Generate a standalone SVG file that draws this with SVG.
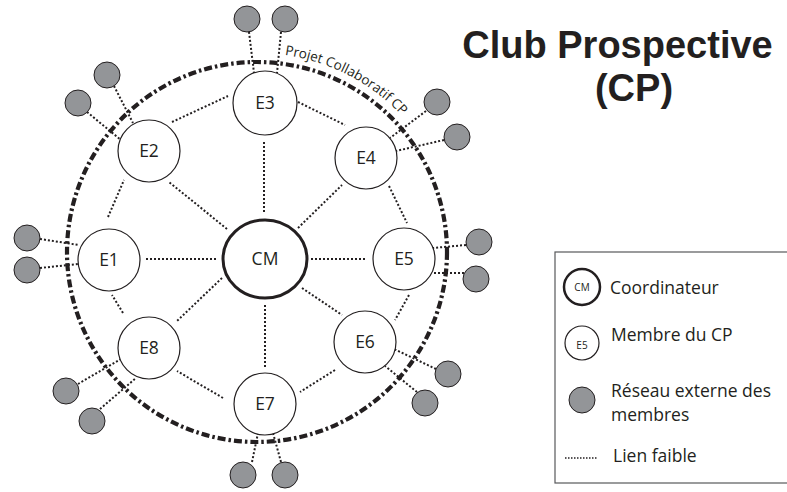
<svg xmlns="http://www.w3.org/2000/svg" width="787" height="492" viewBox="0 0 787 492">
<defs>
<style>
.bg{fill:#ffffff}
.node{fill:#ffffff;stroke:#231f20;stroke-width:1.2}
.coord{fill:#ffffff;stroke:#231f20;stroke-width:3}
.ext{fill:#939598;stroke:#231f20;stroke-width:1}
.lab{font-family:"Open Sans","Noto Sans",sans-serif;font-size:17.5px;fill:#231f20;text-anchor:middle}
.lnk{stroke:#231f20;stroke-width:2;stroke-dasharray:2 2;fill:none}
.ring{fill:none;stroke:#231f20;stroke-width:4.2;stroke-dasharray:8 3 2.5 3}
.leg{font-family:"Open Sans","Noto Sans",sans-serif;font-size:17.5px;fill:#231f20}
.title{font-family:"Liberation Sans",Arial,sans-serif;font-weight:bold;font-size:38px;fill:#231f20;text-anchor:middle}
</style>
<path id="arc" d="M 284.7 54.9 A 199 199 0 0 1 429.3 152.5"/>
</defs>
<rect class="bg" x="0" y="0" width="787" height="492"/>

<g id="boundary">
<circle class="ring" cx="257" cy="252" r="190"/>
<text font-family="'Open Sans','Noto Sans',sans-serif" font-size="13.5" fill="#231f20"><textPath href="#arc">Projet Collaboratif CP</textPath></text>
</g>

<g id="connectors">
<line class="lnk" x1="216" y1="259" x2="146" y2="259"/>
<line class="lnk" x1="227" y1="229" x2="169" y2="182"/>
<line class="lnk" x1="264" y1="212" x2="264" y2="141"/>
<line class="lnk" x1="298" y1="228" x2="342" y2="185"/>
<line class="lnk" x1="311" y1="259" x2="367" y2="259"/>
<line class="lnk" x1="302" y1="288" x2="342" y2="315"/>
<line class="lnk" x1="265" y1="305" x2="265" y2="367"/>
<line class="lnk" x1="222" y1="278" x2="177" y2="321"/>
<line class="lnk" x1="108" y1="217" x2="124" y2="180"/>
<line class="lnk" x1="172" y1="122" x2="228" y2="96"/>
<line class="lnk" x1="298" y1="102" x2="345" y2="125"/>
<line class="lnk" x1="389" y1="186" x2="407" y2="223"/>
<line class="lnk" x1="409" y1="295" x2="395" y2="320"/>
<line class="lnk" x1="335" y1="370" x2="300" y2="392"/>
<line class="lnk" x1="223" y1="398" x2="177" y2="371"/>
<line class="lnk" x1="123" y1="313" x2="112" y2="295"/>
<line class="lnk" x1="40" y1="239" x2="79" y2="245"/>
<line class="lnk" x1="40" y1="268" x2="78" y2="264"/>
<line class="lnk" x1="114" y1="86" x2="133" y2="123"/>
<line class="lnk" x1="87" y1="112" x2="121" y2="140"/>
<line class="lnk" x1="249" y1="32" x2="254" y2="73"/>
<line class="lnk" x1="281" y1="32" x2="277" y2="73"/>
<line class="lnk" x1="426" y1="111" x2="390" y2="138"/>
<line class="lnk" x1="444" y1="140" x2="396" y2="151"/>
<line class="lnk" x1="466" y1="245" x2="433" y2="248"/>
<line class="lnk" x1="464" y1="273" x2="432" y2="273"/>
<line class="lnk" x1="436" y1="369" x2="394" y2="349"/>
<line class="lnk" x1="417" y1="392" x2="385" y2="366"/>
<line class="lnk" x1="252" y1="462" x2="258" y2="433"/>
<line class="lnk" x1="281" y1="462" x2="273" y2="433"/>
<line class="lnk" x1="78" y1="384" x2="121" y2="359"/>
<line class="lnk" x1="100" y1="409" x2="136" y2="378"/>
</g>

<g id="CM"><ellipse class="coord" cx="265" cy="259" rx="42" ry="39"/><text class="lab" x="265" y="265">CM</text></g>
<g id="E1"><circle class="node" cx="109" cy="260" r="31"/><text class="lab" x="109" y="266">E1</text></g>
<g id="E2"><circle class="node" cx="149" cy="151" r="31"/><text class="lab" x="149" y="157">E2</text></g>
<g id="E3"><circle class="node" cx="265" cy="103" r="32"/><text class="lab" x="265" y="109">E3</text></g>
<g id="E4"><circle class="node" cx="366" cy="158" r="31"/><text class="lab" x="366" y="164">E4</text></g>
<g id="E5"><circle class="node" cx="404" cy="259" r="31"/><text class="lab" x="404" y="265">E5</text></g>
<g id="E6"><circle class="node" cx="365" cy="342" r="31"/><text class="lab" x="365" y="348">E6</text></g>
<g id="E7"><circle class="node" cx="265" cy="404" r="31"/><text class="lab" x="265" y="410">E7</text></g>
<g id="E8"><circle class="node" cx="149" cy="348" r="31"/><text class="lab" x="149" y="354">E8</text></g>

<g id="external">
<circle class="ext" cx="27" cy="238" r="13"/>
<circle class="ext" cx="27" cy="270" r="13"/>
<circle class="ext" cx="107" cy="75" r="13"/>
<circle class="ext" cx="78" cy="103" r="13"/>
<circle class="ext" cx="247" cy="19" r="13"/>
<circle class="ext" cx="285" cy="19" r="13"/>
<circle class="ext" cx="437" cy="102" r="13"/>
<circle class="ext" cx="457" cy="137" r="13"/>
<circle class="ext" cx="479" cy="242" r="13"/>
<circle class="ext" cx="476" cy="279" r="13"/>
<circle class="ext" cx="448" cy="374" r="13"/>
<circle class="ext" cx="425" cy="403" r="13"/>
<circle class="ext" cx="243" cy="475" r="13"/>
<circle class="ext" cx="285" cy="475" r="13"/>
<circle class="ext" cx="66" cy="391" r="13"/>
<circle class="ext" cx="92" cy="421" r="13"/>
</g>

<g id="title">
<text class="title" x="617.5" y="58">Club Prospective</text>
<text class="title" x="634" y="101">(CP)</text>
</g>

<g id="legend">
<rect x="555" y="252" width="240" height="231" fill="none" stroke="#58595b" stroke-width="1.2"/>
<ellipse cx="582" cy="287" rx="18" ry="18" fill="#fff" stroke="#231f20" stroke-width="2.5"/>
<text x="582" y="291" font-family="'Open Sans','Noto Sans',sans-serif" font-size="10" fill="#231f20" text-anchor="middle">CM</text>
<text class="leg" x="610" y="294">Coordinateur</text>
<circle class="node" cx="582" cy="343" r="17"/>
<text x="582" y="349" font-family="'Open Sans','Noto Sans',sans-serif" font-size="10" fill="#231f20" text-anchor="middle">E5</text>
<text class="leg" x="611" y="341">Membre du CP</text>
<circle class="ext" cx="582" cy="400" r="13"/>
<text class="leg" x="611" y="397">Réseau externe des</text>
<text class="leg" x="611" y="421">membres</text>
<line x1="565" y1="458" x2="598" y2="458" stroke="#231f20" stroke-width="1.3" stroke-dasharray="1.5 1.5"/>
<text class="leg" x="613" y="462">Lien faible</text>
</g>
</svg>
